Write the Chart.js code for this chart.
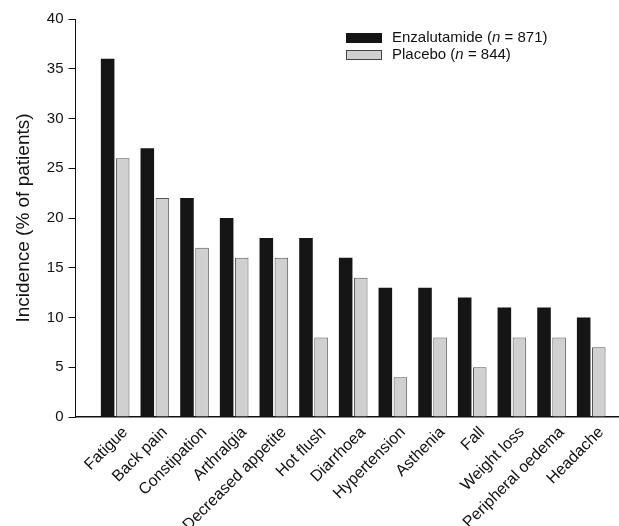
<!DOCTYPE html>
<html>
<head>
<meta charset="utf-8">
<script src="https://cdn.jsdelivr.net/npm/chart.js@4.4.0/dist/chart.umd.min.js"></script>
<style>
  html, body { margin: 0; padding: 0; background: #fff; }
  #wrap { width: 619px; height: 526px; }
</style>
</head>
<body>
<div id="wrap"><canvas id="myChart"></canvas></div>
<script>
var categories = ['Fatigue', 'Back pain', 'Constipation', 'Arthralgia', 'Decreased appetite', 'Hot flush',
    'Diarrhoea', 'Hypertension', 'Asthenia', 'Fall', 'Weight loss', 'Peripheral oedema', 'Headache'];
var enzalutamide = [36, 27, 22, 20, 18, 18, 16, 13, 13, 12, 11, 11, 10];
var placebo = [26, 22, 17, 16, 16, 8, 14, 4, 8, 5, 8, 8, 7];
var seriesNames = ['Enzalutamide', 'Placebo'];
var seriesN = [871, 844];
var yTicks = [0, 5, 10, 15, 20, 25, 30, 35, 40];

var font = "'Liberation Sans', Arial, sans-serif";

function toPoints(values) {
    return values.map(function (v, i) { return { x: i + 1, y: v }; });
}

// legend with italic "n", drawn on the canvas
var legendPlugin = {
    id: 'nLegend',
    afterDraw: function (chart) {
        var c = chart.ctx;
        var fills = ['#151515', '#d0d0d0'];
        c.save();
        c.textBaseline = 'middle';
        for (var i = 0; i < seriesNames.length; i++) {
            var bx = 346, by = 33 + i * 17;
            c.fillStyle = fills[i];
            c.fillRect(bx, by, 36, 10);
            if (i == 1) {
                c.strokeStyle = '#444';
                c.lineWidth = 1;
                c.strokeRect(bx + 0.5, by + 0.5, 35, 9);
            }
            var x = 392, y = by + 5;
            c.fillStyle = '#111';
            c.font = '15px ' + font;
            var t1 = seriesNames[i] + ' (';
            c.fillText(t1, x, y);
            x += c.measureText(t1).width;
            c.font = 'italic 15px ' + font;
            c.fillText('n', x, y);
            x += c.measureText('n').width;
            c.font = '15px ' + font;
            c.fillText(' = ' + seriesN[i] + ')', x, y);
        }
        c.restore();
    }
};

var ctx = document.getElementById('myChart').getContext('2d');
var myChart = new Chart(ctx, {
    type: 'bar',
    data: {
        datasets: [{
            label: seriesNames[0],
            data: toPoints(enzalutamide),
            backgroundColor: '#151515',
            borderWidth: 0
        }, {
            label: seriesNames[1],
            data: toPoints(placebo),
            backgroundColor: '#d0d0d0',
            borderColor: '#555',
            borderWidth: 1
        }]
    },
    options: {
        responsive: true,
        maintainAspectRatio: false,
        animation: false,
        categoryPercentage: 0.76,
        barPercentage: 0.9,
        layout: { padding: { top: 19, left: 0, right: 0, bottom: 0 } },
        plugins: {
            legend: { display: false },
            tooltip: { enabled: false }
        },
        scales: {
            x: {
                type: 'linear',
                offset: false,
                min: 0,
                max: 13.7,
                afterBuildTicks: function (scale) {
                    scale.ticks = categories.map(function (c, i) { return { value: i + 1 }; });
                },
                afterFit: function (scale) { scale.height = 109; },
                grid: { display: false, drawTicks: false },
                border: { color: '#111', width: 1.5 },
                ticks: {
                    autoSkip: false,
                    minRotation: 45,
                    maxRotation: 45,
                    padding: 6,
                    labelOffset: 10,
                    color: '#111',
                    font: { family: font, size: 16 },
                    callback: function (v) { return categories[v - 1]; }
                }
            },
            y: {
                min: 0,
                max: 40,
                afterBuildTicks: function (scale) {
                    scale.ticks = yTicks.map(function (v) { return { value: v }; });
                },
                afterFit: function (scale) { scale.width = 75.5; },
                grid: { drawOnChartArea: false, drawTicks: true, tickLength: 7, color: '#111' },
                border: { color: '#111', width: 1 },
                ticks: {
                    padding: 5,
                    color: '#111',
                    font: { family: font, size: 15 }
                },
                title: {
                    display: true,
                    text: 'Incidence (% of patients)',
                    color: '#111',
                    font: { family: font, size: 19 },
                    padding: { top: 12, bottom: 4 }
                }
            }
        }
    },
    plugins: [legendPlugin]
});
</script>
</body>
</html>
